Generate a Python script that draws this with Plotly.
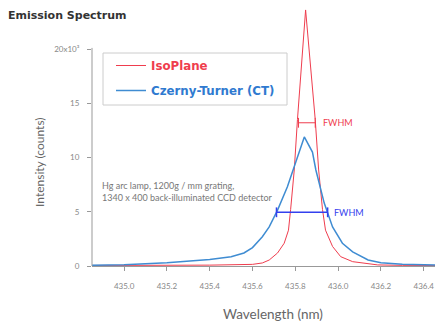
import plotly.graph_objects as go

# Wavelength (nm) / intensity (x10^3 counts)
iso_x = [434.85, 435.2, 435.4, 435.6, 435.646, 435.678, 435.717, 435.748, 435.768, 435.778,
         435.795, 435.81, 435.848, 435.893, 435.909, 435.927, 435.941, 435.974, 436.012,
         436.068, 436.185, 436.3, 436.49]
iso_y = [0.05, 0.06, 0.08, 0.15, 0.28, 0.55, 1.2, 2.1, 3.3, 5.2,
         8.85, 13.5, 23.6, 13.5, 8.85, 5.2, 3.3, 1.8, 0.86,
         0.4, 0.1, 0.06, 0.05]

ct_x = [434.85, 435.0, 435.2, 435.4, 435.5, 435.56, 435.6, 435.646, 435.678, 435.717,
        435.763, 435.802, 435.842, 435.88, 435.896, 435.935, 435.974, 436.02, 436.068,
        436.14, 436.2, 436.3, 436.49]
ct_y = [0.08, 0.12, 0.3, 0.6, 0.85, 1.2, 1.7, 2.7, 3.6, 5.15,
        7.3, 9.5, 11.9, 10.5, 8.85, 5.8, 3.6, 2.1, 1.3,
        0.55, 0.3, 0.15, 0.08]

fwhm_iso_x = [435.815, 435.893]
fwhm_iso_y = [13.2, 13.2]
fwhm_ct_x = [435.712, 435.951]
fwhm_ct_y = [4.95, 4.95]

x_ticks = [435.0, 435.2, 435.4, 435.6, 435.8, 436.0, 436.2, 436.4]
x_ticklabels = ["435.0", "435.2", "435.4", "435.6", "435.8", "436.0", "436.2", "436.4"]
y_ticks = [0, 5, 10, 15, 20]
y_ticklabels = ["0", "5", "10", "15", "20x10³"]

RED = "#ef3d4e"
BLUE = "#3f8cd2"
FWHM_BLUE = "#3340ee"
GRAY = "#999999"
FONT = "Lato"
WIDE = "DejaVu Sans"

# page body has an 8px margin: figure is sized/positioned to compensate
OFF = 8
W, H = 443 - OFF, 326 - OFF
PL, PR, PT, PB = 92, 443, 8, 266          # plot area in page pixels
PW, PH = PR - PL, PB - PT


def px(X):
    return (X - PL) / PW


def py(Y):
    return (PB - Y) / PH


fig = go.Figure()
fig.add_trace(go.Scatter(x=iso_x, y=iso_y, mode="lines", line=dict(color=RED, width=1),
                         name=f"<span style='color:{RED}'><b>IsoPlane</b></span>",
                         legendgroup="a"))
fig.add_trace(go.Scatter(x=ct_x, y=ct_y, mode="lines", line=dict(color=BLUE, width=1.5),
                         name=f"<span style='color:#2f7ad0'><b>Czerny-Turner (CT)</b></span>",
                         legendgroup="b"))
fig.add_trace(go.Scatter(x=fwhm_iso_x, y=fwhm_iso_y, mode="lines+markers",
                         line=dict(color=RED, width=1),
                         marker=dict(symbol="line-ns", size=7, line=dict(color=RED, width=1)),
                         showlegend=False))
fig.add_trace(go.Scatter(x=fwhm_ct_x, y=fwhm_ct_y, mode="lines+markers",
                         line=dict(color=FWHM_BLUE, width=1.5),
                         marker=dict(symbol="line-ns", size=7, line=dict(color=FWHM_BLUE, width=1.5)),
                         showlegend=False))

fig.update_layout(
    width=W, height=H,
    margin=dict(l=PL - OFF, r=0, t=PT - OFF, b=326 - PB, autoexpand=False),
    paper_bgcolor="white", plot_bgcolor="white",
    font=dict(family=FONT, color="#777"),
    title=dict(text="<b>Emission Spectrum</b>", x=0, xref="container", xanchor="left",
               y=1 - (15 - OFF) / H, yref="container", yanchor="middle", pad=dict(l=0, t=0),
               font=dict(family=WIDE, size=11, color="#333")),
    showlegend=True,
    legend=dict(x=px(111), y=py(51), xanchor="left", yanchor="top",
                borderwidth=0, bgcolor="rgba(0,0,0,0)",
                font=dict(family=WIDE, size=11.8), tracegroupgap=6,
                traceorder="grouped", itemwidth=30),
    xaxis=dict(range=[434.85, 436.49], tickvals=x_ticks, ticktext=x_ticklabels,
               showgrid=False, zeroline=False, showline=True, linecolor=GRAY, linewidth=1,
               ticks="outside", ticklen=4, tickcolor=GRAY, automargin=False,
               tickfont=dict(family=FONT, size=8, color="#888"), ticklabelstandoff=8),
    yaxis=dict(range=[0, PH / 10.85], tickvals=y_ticks, ticktext=y_ticklabels,
               showgrid=False, zeroline=False, showline=False, automargin=False,
               ticks="outside", ticklen=4, tickcolor=GRAY,
               tickfont=dict(family=FONT, size=8, color="#888"), ticklabelstandoff=6),
)

# y axis line only spanning 0..20
fig.add_shape(type="line", xref="paper", yref="y", x0=0, x1=0, y0=0, y1=20.1,
              line=dict(color=GRAY, width=1))
# legend frame
fig.add_shape(type="rect", xref="paper", yref="paper", x0=px(103), x1=px(287),
              y0=py(105), y1=py(53), line=dict(color="#cccccc", width=1), layer="below")

fig.add_annotation(text="Intensity (counts)", textangle=-90, xref="paper", yref="paper",
                   x=px(39), y=py(162), xanchor="center", yanchor="middle", showarrow=False,
                   font=dict(family=FONT, size=12, color="#666"))
fig.add_annotation(text="Wavelength (nm)", xref="paper", yref="paper",
                   x=px(273), y=py(314), xanchor="center", yanchor="middle", showarrow=False,
                   font=dict(family=FONT, size=13.5, color="#666"))
fig.add_annotation(text="Hg arc lamp, 1200g / mm grating,<br>1340 x 400 back-illuminated CCD detector",
                   xref="paper", yref="paper", x=px(100), y=py(192),
                   xanchor="left", yanchor="middle", align="left", showarrow=False,
                   font=dict(family=FONT, size=9, color="#777"))
fig.add_annotation(text="FWHM", xref="x", yref="y", x=fwhm_iso_x[1], y=fwhm_iso_y[0],
                   xanchor="left", xshift=6, showarrow=False,
                   font=dict(family=FONT, size=9, color=RED))
fig.add_annotation(text="FWHM", xref="x", yref="y", x=fwhm_ct_x[1], y=fwhm_ct_y[0],
                   xanchor="left", xshift=4, showarrow=False,
                   font=dict(family=FONT, size=9, color=FWHM_BLUE))

fig.write_html("out.html")
